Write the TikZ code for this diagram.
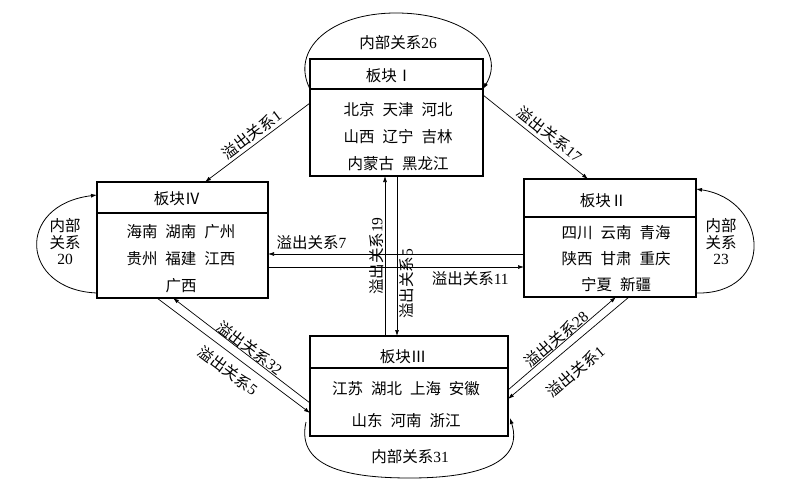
\documentclass[tikz,border=0pt]{standalone}
\usepackage{fontspec}
\setmainfont{Liberation Serif}
\newfontfamily\cjk{Noto Sans CJK SC}
\usetikzlibrary{arrows.meta,calc}
\newcommand{\gp}{\hspace{8pt}}
\newcommand{\rel}[1]{{\cjk 溢出关系}#1}
\begin{document}
\begin{tikzpicture}[x=1pt,y=-1pt,
  every node/.style={inner sep=0pt, outer sep=0pt},
  boxpart/.style={draw, line width=1.1pt, anchor=north west},
  head/.style={font=\fontsize{15.5}{17}\selectfont\cjk},
  rows/.style={font=\fontsize{15.5}{#1}\selectfont\cjk, align=center},
  conn/.style={line width=0.7pt, -{Latex[length=6pt,width=4pt]}},
  loopline/.style={line width=0.8pt, -{Latex[length=6pt,width=4pt]}},
  lab/.style={font=\fontsize{15.5}{17}\selectfont, inner sep=1.5pt},
  lab3/.style={font=\fontsize{15.5}{16.5}\selectfont, align=center}]
\useasboundingbox (0,0) rectangle (803,487);

% Block I
\node[boxpart, minimum width=173pt, minimum height=30pt] (h1) at (310,59) {};
\node[boxpart, minimum width=173pt, minimum height=87pt] (b1) at (310,89) {};
\node[head] (t1h) at (389,76) {板块Ⅰ};
\node[rows=27pt] (t1b) at (398,136.5) {北京\gp 天津\gp 河北\\山西\gp 辽宁\gp 吉林\\内蒙古\gp 黑龙江};

% Block IV
\node[boxpart, minimum width=171pt, minimum height=31pt] (h4) at (97,182) {};
\node[boxpart, minimum width=171pt, minimum height=85pt] (b4) at (97,213) {};
\node[head] (t4h) at (177,199) {板块Ⅳ};
\node[rows=27pt] (t4b) at (181,259) {海南\gp 湖南\gp 广州\\贵州\gp 福建\gp 江西\\广西};

% Block II
\node[boxpart, minimum width=172pt, minimum height=38pt] (h2) at (524,179) {};
\node[boxpart, minimum width=172pt, minimum height=80pt] (b2) at (524,217) {};
\node[head] (t2h) at (603,201) {板块Ⅱ};
\node[rows=26pt] (t2b) at (616,259) {四川\gp 云南\gp 青海\\陕西\gp 甘肃\gp 重庆\\宁夏\gp 新疆};

% Block III
\node[boxpart, minimum width=198pt, minimum height=32pt] (h3) at (310,336) {};
\node[boxpart, minimum width=198pt, minimum height=68pt] (b3) at (310,368) {};
\node[head] (t3h) at (403,357) {板块Ⅲ};
\node[rows=32pt] (t3b) at (406,405) {江苏\gp 湖北\gp 上海\gp 安徽\\山东\gp 河南\gp 浙江};

% Internal loops
\draw[loopline] (h1.south west) .. controls (290,50) and (330,13) .. (396,13)
  .. controls (465,13) and (507,50) .. (h1.south east);
\node[lab] (l1) at (398,43) {{\cjk 内部关系}26};

\draw[loopline] (b4.south west) ++(0,-5) .. controls (20,290) and (15,205) .. (97,195);
\node[lab3] (l4) at (65,242) {{\cjk 内部}\\{\cjk 关系}\\20};

\draw[loopline] (b2.south east) ++(0,-4) .. controls (775,295) and (770,200) .. (696,189);
\node[lab3] (l2) at (721,242) {{\cjk 内部}\\{\cjk 关系}\\23};

\draw[loopline] (306,422) .. controls (295,470) and (355,478) .. (410,478)
  .. controls (470,478) and (525,466) .. (510,418);
\node[lab] (l3) at (410,457) {{\cjk 内部关系}31};

% Spillover I <-> IV, I <-> II
\draw[conn] (b1.west |- 0,103) -- node[lab, sloped, above, pos=0.5, inner sep=3pt] {\rel{1}} (205,0 |- h4.north);
\draw[conn] (b1.east |- 0,95) -- node[lab, sloped, above, pos=0.57, inner sep=4pt] {\rel{17}} (588,0 |- h2.north);

% vertical I <-> III
\draw[conn] (385,0 |- h3.north) -- node[lab, sloped, above, pos=0.5] {\rel{19}} (385,0 |- b1.south);
\draw[conn] (397,0 |- b1.south) -- node[lab, pos=0.675, rotate=90, anchor=north, inner sep=2.5pt] {\rel{5}} (397,0 |- h3.north);

% horizontal IV <-> II
\draw[conn] (b2.west |- 0,254) -- node[lab, above, pos=0.83, inner sep=4pt] {\rel{7}} (b4.east |- 0,254);
\draw[conn] (b4.east |- 0,267) -- node[lab, below, pos=0.79, inner sep=4pt] {\rel{11}} (b2.west |- 0,267);

% IV <-> III
\draw[conn] (157,0 |- b4.south) -- node[lab, sloped, below, pos=0.525, inner sep=8pt] {\rel{5}} (b3.west |- 0,413);
\draw[conn] (b3.west |- 0,403) -- node[lab, sloped, above, pos=0.47, inner sep=0pt] {\rel{32}} (173,0 |- b4.south);

% III <-> II
\draw[conn] (b3.east |- 0,390) -- node[lab, sloped, above, pos=0.49, inner sep=0pt] {\rel{28}} (616,0 |- b2.south);
\draw[conn] (629,0 |- b2.south) -- node[lab, sloped, below, pos=0.56, inner sep=15pt] {\rel{1}} (b3.east |- 0,399);
\end{tikzpicture}
\end{document}
